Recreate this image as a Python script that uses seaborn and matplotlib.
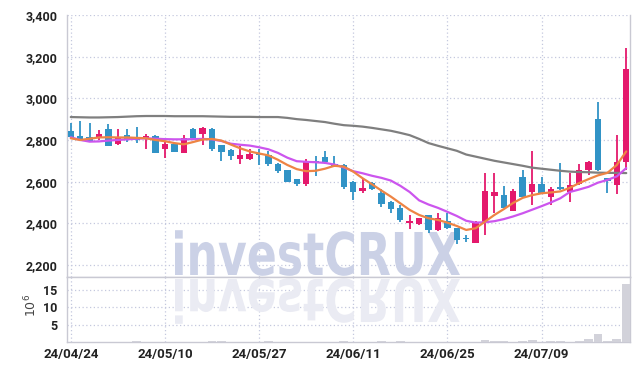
import numpy as np
import matplotlib
matplotlib.use("Agg")
import matplotlib.pyplot as plt
import matplotlib.transforms as mtransforms
from matplotlib.textpath import TextPath
from matplotlib.patches import PathPatch
from matplotlib.font_manager import FontProperties
import seaborn as sns

# ---- data (prices in KRW, volume in millions) ----
opens = [2845, 2819, 2816, 2813, 2853, 2779, 2824, 2810, 2803, 2819,
         2758, 2779, 2739, 2853, 2827, 2853, 2776, 2752, 2707, 2707,
         2739, 2728, 2685, 2656, 2611, 2587, 2699, 2717, 2685, 2680,
         2600, 2557, 2592, 2547, 2504, 2475, 2403, 2397, 2440, 2368,
         2413, 2376, 2330, 2307, 2403, 2531, 2536, 2461, 2621, 2552,
         2589, 2528, 2574, 2552, 2589, 2656, 2901, 2616, 2584, 2696]
highs = [2883, 2890, 2880, 2848, 2875, 2851, 2851, 2864, 2829, 2822,
         2792, 2785, 2824, 2856, 2860, 2856, 2778, 2757, 2771, 2755,
         2755, 2747, 2688, 2658, 2613, 2707, 2723, 2749, 2723, 2683,
         2602, 2616, 2600, 2563, 2506, 2488, 2440, 2427, 2442, 2448,
         2448, 2378, 2344, 2413, 2640, 2640, 2581, 2565, 2656, 2749,
         2621, 2576, 2688, 2643, 2685, 2700, 2981, 2618, 2824, 3240]
lows = [2810, 2800, 2795, 2800, 2770, 2776, 2789, 2784, 2755, 2736,
        2712, 2740, 2736, 2808, 2776, 2749, 2701, 2704, 2685, 2704,
        2680, 2675, 2643, 2598, 2579, 2579, 2627, 2685, 2670, 2563,
        2512, 2544, 2560, 2477, 2451, 2408, 2373, 2394, 2355, 2365,
        2372, 2301, 2312, 2305, 2344, 2448, 2472, 2458, 2522, 2488,
        2545, 2488, 2560, 2504, 2586, 2632, 2650, 2544, 2541, 2656]
closes = [2816, 2805, 2797, 2829, 2773, 2813, 2806, 2800, 2819, 2739,
          2779, 2744, 2808, 2811, 2856, 2755, 2744, 2725, 2728, 2733,
          2728, 2683, 2651, 2600, 2587, 2699, 2688, 2696, 2675, 2576,
          2552, 2568, 2563, 2493, 2467, 2416, 2411, 2424, 2368, 2424,
          2376, 2320, 2326, 2403, 2555, 2552, 2475, 2555, 2525, 2589,
          2547, 2563, 2563, 2584, 2656, 2696, 2656, 2605, 2696, 3141]
volume = [0.1, 0.1, 0.1, 0.1, 0.1, 0.1, 0.1, 0.3, 0.1, 0.1,
          0.1, 0.1, 0.1, 0.1, 0.1, 0.3, 0.3, 0.1, 0.1, 0.1,
          0.1, 0.3, 0.1, 0.1, 0.1, 0.1, 0.1, 0.1, 0.1, 0.3,
          0.1, 0.1, 0.1, 0.3, 0.1, 0.3, 0.1, 0.1, 0.1, 0.1,
          0.1, 0.1, 0.1, 0.1, 0.5, 0.3, 0.3, 0.1, 0.3, 0.7,
          0.1, 0.3, 0.3, 0.1, 0.3, 0.8, 2.4, 0.3, 0.8, 16.8]
ma_short = [2808, 2800, 2806, 2812, 2813, 2812, 2812, 2810, 2808, 2800,
            2794, 2785, 2779, 2790, 2802, 2805, 2797, 2778, 2760, 2745,
            2735, 2726, 2705, 2680, 2660, 2650, 2652, 2662, 2676, 2672,
            2648, 2616, 2587, 2557, 2528, 2496, 2464, 2440, 2424, 2416,
            2403, 2387, 2368, 2376, 2408, 2440, 2468, 2498, 2522, 2535,
            2544, 2548, 2553, 2570, 2593, 2612, 2630, 2642, 2680, 2745]
ma_mid = [2813, 2800, 2792, 2793, 2797, 2800, 2803, 2806, 2808, 2806,
          2804, 2803, 2803, 2804, 2805, 2803, 2795, 2782, 2777, 2773,
          2765, 2755, 2738, 2715, 2698, 2695, 2693, 2690, 2682, 2668,
          2650, 2640, 2628, 2618, 2605, 2580, 2550, 2510, 2490, 2474,
          2455, 2435, 2412, 2403, 2405, 2410, 2420, 2433, 2448, 2465,
          2482, 2500, 2520, 2550, 2562, 2575, 2595, 2608, 2625, 2665]
ma_long = [2910, 2909, 2908, 2908, 2909, 2910, 2912, 2914, 2915, 2915,
           2915, 2914, 2914, 2914, 2914, 2913, 2912, 2911, 2911, 2911,
           2910, 2910, 2910, 2906, 2900, 2896, 2891, 2886, 2878, 2871,
           2868, 2864, 2858, 2851, 2844, 2834, 2823, 2805, 2785, 2772,
           2760, 2748, 2730, 2720, 2710, 2700, 2692, 2684, 2676, 2667,
           2662, 2657, 2652, 2648, 2646, 2645, 2643, 2642, 2642, 2641]
tick_pos = [0, 10, 20, 30, 40, 50]
tick_labels = ["24/04/24", "24/05/10", "24/05/27", "24/06/11", "24/06/25", "24/07/09"]
price_ticks = [2200, 2400, 2600, 2800, 3000, 3200, 3400]
vol_ticks = [5, 10, 15]

UP = "#e4196c"
DOWN = "#3193c6"
GRID = "#c4c8de"
SPINE = "#c9c9d3"
TICKFONT = ["Roboto", "DejaVu Sans"]

sns.set_style("white")

W, H = 639, 371
fig = plt.figure(figsize=(W / 100, H / 100), dpi=100)
ax = fig.add_axes([67 / W, 1 - 277 / H, 563 / W, 262 / H])
axv = fig.add_axes([67 / W, 1 - 342 / H, 563 / W, 65 / H], sharex=ax)

x = np.arange(len(closes))
o = np.array(opens); c = np.array(closes)
colors = [UP if cc >= oo else DOWN for oo, cc in zip(o, c)]

# watermark + reflection
fp = FontProperties(family="DejaVu Sans", weight="bold")
tp = TextPath((0, 0), "investCRUX", size=1, prop=fp)
bb = tp.get_extents()
sx = 285 / bb.width
sy = 43 / 0.729
base = H - 275
tr_main = mtransforms.Affine2D().scale(sx, sy).translate(175 - bb.x0 * sx, base)
ax.add_patch(PathPatch(tp, transform=tr_main, facecolor="#cbd1e6", edgecolor="none", zorder=1))
tr_ref = mtransforms.Affine2D().scale(sx, -sy).translate(175 - bb.x0 * sx, base - 4)
axv.add_patch(PathPatch(tp, transform=tr_ref, facecolor="#eaebf3", edgecolor="none", zorder=1))

# candles
ax.vlines(x, lows, highs, colors=colors, linewidth=1.3, zorder=3)
ax.bar(x, np.abs(c - o), bottom=np.minimum(o, c), width=0.68, color=colors, zorder=4, linewidth=0)

# moving averages
sns.lineplot(x=x, y=ma_long, ax=ax, color="#7f7f7f", linewidth=1.6, zorder=5)
sns.lineplot(x=x, y=ma_mid, ax=ax, color="#cc55ee", linewidth=1.6, zorder=5)
sns.lineplot(x=x, y=ma_short, ax=ax, color="#ee8444", linewidth=1.6, zorder=5)

# volume
axv.bar(x, volume, width=0.95, color="#d2d2da", zorder=3, linewidth=0)

for a in (ax, axv):
    a.set_xticks(tick_pos)
    a.grid(True, color=GRID, linestyle=(0, (1, 2)), linewidth=0.9, zorder=0)
    a.set_axisbelow(True)
    a.tick_params(length=0, colors="#222222")
    for s in a.spines.values():
        s.set_color(SPINE)
        s.set_linewidth(1.0)
    a.set_xlabel("")
    a.set_ylabel("")

ax.spines["top"].set_visible(False)
ax.set_xlim(-0.4, len(closes) - 0.6)
ax.set_ylim(2142, 3400)
ax.set_yticks(price_ticks)
ax.set_yticklabels([f"{v:,}" for v in price_ticks], family=TICKFONT, fontsize=9, fontweight="bold")
ax.tick_params(axis="x", labelbottom=False)
ax.tick_params(axis="y", pad=7)

axv.set_ylim(0, 18.8)
axv.set_yticks(vol_ticks)
axv.set_yticklabels([str(v) for v in vol_ticks], family=TICKFONT, fontsize=9, fontweight="bold")
axv.set_xticklabels(tick_labels, family=TICKFONT, fontsize=9.5, fontweight="bold")
axv.tick_params(axis="x", pad=4)
axv.tick_params(axis="y", pad=7)
fig.text(31 / W, 1 - 305 / H, r"$10^6$", rotation=90, ha="center", va="center",
         fontsize=9, color="#444444")

fig.savefig("out.png", dpi=100)
